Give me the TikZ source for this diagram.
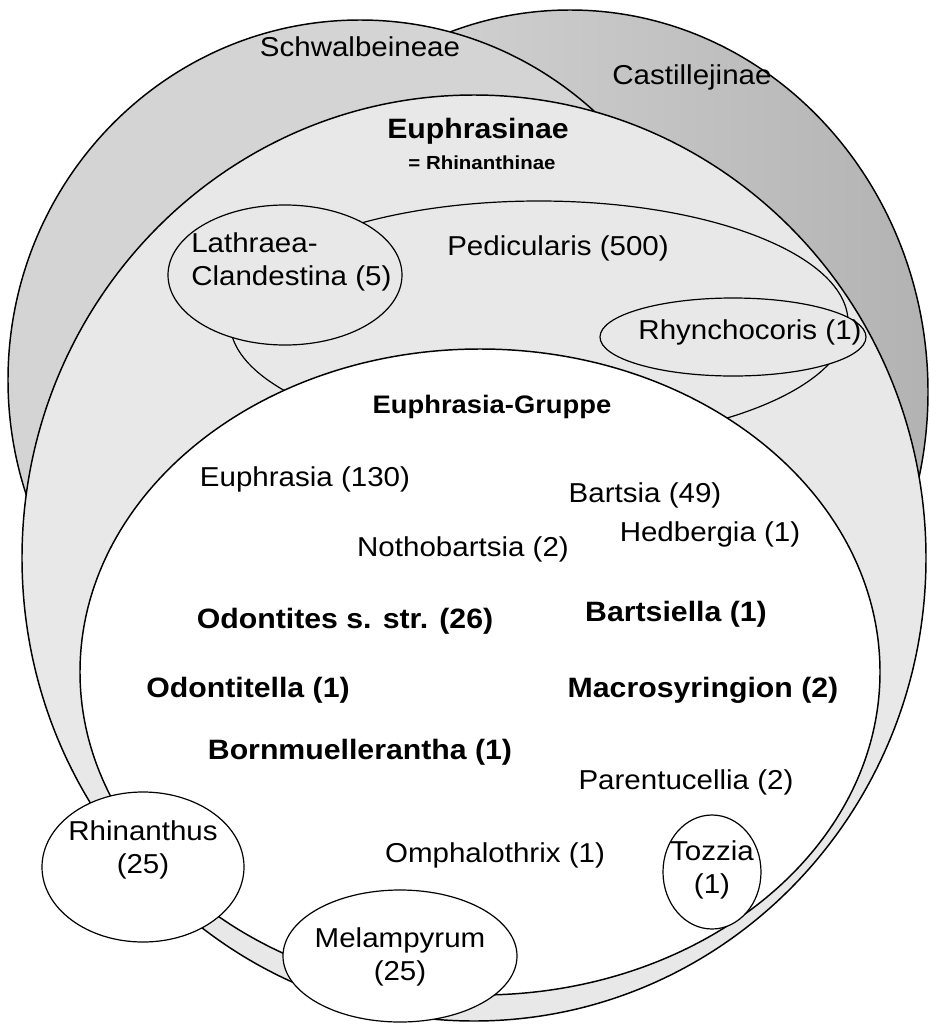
\documentclass[tikz,border=0pt]{standalone}
\usepackage{fontspec}
\setmainfont[FakeStretch=1.08]{Liberation Sans}
\begin{document}
\begin{tikzpicture}[x=0.75pt,y=-0.75pt,
  outline/.style={draw=black,line width=1.1pt},
  thin outline/.style={draw=black,line width=0.9pt},
  lightgrey/.style={fill=black!9},
  lbl/.style={inner sep=0pt,font=\fontsize{20.5}{25}\selectfont},
  blbl/.style={inner sep=0pt,font=\bfseries\fontsize{21}{25}\selectfont}]
\useasboundingbox (0,0) rectangle (931,1025);
% outer groups
\path[outline, left color=black!13, right color=black!30] (570,392) ellipse [x radius=358, y radius=382];
\path[outline, fill=black!17] (360,380) ellipse [x radius=352, y radius=360];
% Euphrasinae
\path[outline, lightgrey] (474,558) ellipse [x radius=452, y radius=463];
% Pedicularis
\path[thin outline, lightgrey] (539,322) ellipse [x radius=309, y radius=121];
% Lathraea-Clandestina
\path[thin outline, lightgrey] (285,275) ellipse [x radius=117, y radius=70];
% Rhynchocoris
\path[thin outline, lightgrey] (733,337) ellipse [x radius=133, y radius=39];
% Euphrasia-Gruppe
\path[outline, fill=white] (480,672) ellipse [x radius=400, y radius=323];
% small satellites
\path[thin outline, fill=white] (143,867) ellipse [x radius=101, y radius=75];
\path[thin outline, fill=white] (400,956) ellipse [x radius=117, y radius=66];
\path[thin outline, fill=white] (712,872) ellipse [x radius=49, y radius=57];
% labels
\node[lbl] (tSchw) at (360,47) {Schwalbeineae};
\node[lbl] (tCast) at (692,77) {Castillejinae};
\node[inner sep=0pt,font=\bfseries\fontsize{21}{25}\selectfont] (tEuph) at (478,131) {Euphrasinae};
\node[inner sep=0pt,font=\bfseries\fontsize{14.2}{18}\selectfont] (tRhin) at (482,163) {= Rhinanthinae};
\node[lbl,align=left,anchor=west] (tLath) at (191,262) {Lathraea-\\Clandestina (5)};
\node[lbl] (tPed) at (558,248) {Pedicularis (500)};
\node[lbl] (tRhyn) at (750,332) {Rhynchocoris (1)};
\node[inner sep=0pt,font=\bfseries\fontsize{19}{23}\selectfont] (tGrp) at (492,407) {Euphrasia-Gruppe};
\node[lbl] (tEu) at (305,479) {Euphrasia (130)};
\node[lbl] (tBar) at (645,495) {Bartsia (49)};
\node[lbl] (tHed) at (710,534) {Hedbergia (1)};
\node[lbl] (tNot) at (463,549) {Nothobartsia (2)};
\node[blbl] (tOdo) at (345,621) {Odontites s. str. (26)};
\node[blbl] (tBts) at (676,614) {Bartsiella (1)};
\node[blbl] (tOdl) at (248,690) {Odontitella (1)};
\node[blbl] (tMac) at (703,690) {Macrosyringion (2)};
\node[blbl] (tBor) at (360,752) {Bornmuellerantha (1)};
\node[lbl] (tPar) at (686,782) {Parentucellia (2)};
\node[lbl] (tOmp) at (495,855) {Omphalothrix (1)};
\node[lbl,align=center] (tRhi) at (143,850) {Rhinanthus\\(25)};
\node[lbl,align=center] (tMel) at (400,957) {Melampyrum\\(25)};
\node[lbl,align=center] (tToz) at (712,870) {Tozzia\\(1)};
\end{tikzpicture}
\end{document}
